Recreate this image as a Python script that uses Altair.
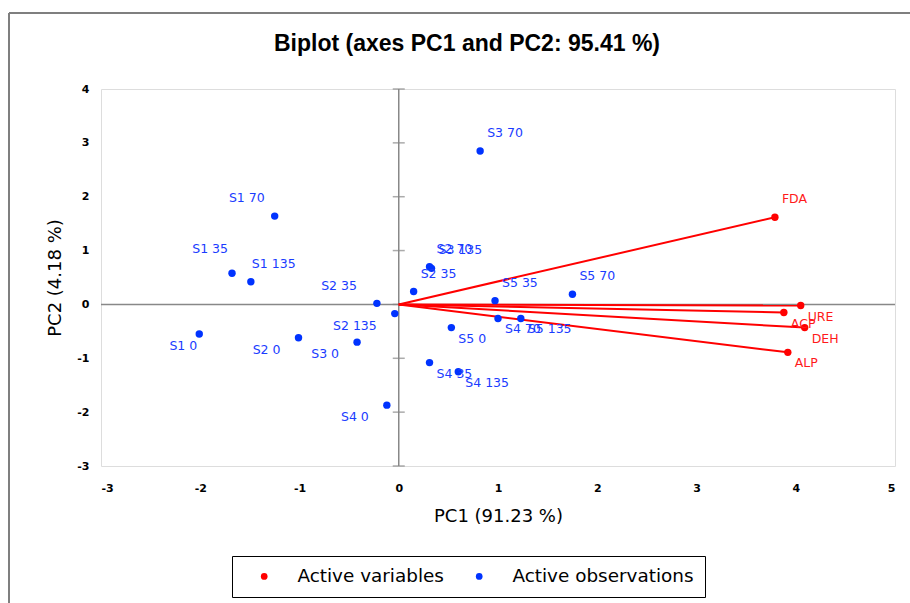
import altair as alt
import pandas as pd

# ---- data ----
obs_names = ["S1 0", "S1 35", "S1 70", "S1 135", "S2 0", "S2 35", "S2 70", "S2 135",
             "S3 0", "S2 35", "S3 70", "S3 135", "S4 0", "S4 35", "S4 70", "S4 135",
             "S5 0", "S5 35", "S5 70", "S5 135"]
obs_pc1 = [-2.01, -1.68, -1.25, -1.49, -1.01, -0.22, 0.31, -0.04,
           -0.42, 0.15, 0.82, 0.33, -0.12, 0.31, 1.00, 0.60,
           0.53, 0.97, 1.75, 1.23]
obs_pc2 = [-0.55, 0.58, 1.64, 0.42, -0.62, 0.02, 0.70, -0.17,
           -0.70, 0.24, 2.85, 0.67, -1.87, -1.08, -0.26, -1.25,
           -0.43, 0.07, 0.19, -0.26]
# label placement class for each observation
obs_pos = ["ll2", "ul2", "ul", "ur2", "ll", "ul3", "ur", "ll",
           "ll", "ur", "ur", "ur", "ll", "lr", "lr", "lr",
           "lr", "ur", "ur", "lr"]

var_names = ["FDA", "URE", "ACP", "DEH", "ALP"]
var_pc1 = [3.79, 4.05, 3.88, 4.09, 3.92]
var_pc2 = [1.62, -0.02, -0.15, -0.43, -0.89]
var_pos = ["ur", "lr", "lr", "lr", "lr"]

x_ticks = [-3, -2, -1, 0, 1, 2, 3, 4, 5]
y_ticks = [-3, -2, -1, 0, 1, 2, 3, 4]

title_text = "Biplot (axes PC1 and PC2: 95.41 %)"
x_title = "PC1 (91.23 %)"
y_title = "PC2 (4.18 %)"
legend_labels = ["Active variables", "Active observations"]
legend_colors = ["#ff0000", "#0033ff"]

obs_df = pd.DataFrame({"name": obs_names, "x": obs_pc1, "y": obs_pc2,
                       "pos": obs_pos, "type": legend_labels[1]})
var_df = pd.DataFrame({"name": var_names, "x": var_pc1, "y": var_pc2,
                       "pos": var_pos, "type": legend_labels[0]})
ytick_df = pd.DataFrame({"v": y_ticks})
one = pd.DataFrame({"a": [0]})

# ---- scales / axes ----
xs = alt.Scale(domain=[-3, 5], nice=False, zero=False)
ys = alt.Scale(domain=[-3, 4], nice=False, zero=False)
xaxis = alt.Axis(values=x_ticks, grid=False, domain=False, ticks=False, tickSize=0,
                 labelPadding=16, labelFont="DejaVu Sans", labelFontSize=11,
                 labelFontWeight="bold", labelExpr="datum.value + ''",
                 labelColor="#000000", titleFont="DejaVu Sans", titleFontSize=18,
                 titleFontWeight="normal", titleColor="#000000", titlePadding=14,
                 title=x_title)
yaxis = alt.Axis(values=y_ticks, grid=False, domain=False, ticks=False, tickSize=0,
                 labelPadding=12, labelFont="DejaVu Sans", labelFontSize=11,
                 labelFontWeight="bold", labelExpr="datum.value + ''",
                 labelColor="#000000", titleFont="DejaVu Sans", titleFontSize=18,
                 titleFontWeight="normal", titleColor="#000000", titlePadding=12,
                 title=y_title)


def X(field):
    return alt.X(field, type="quantitative", scale=xs, axis=xaxis)


def Y(field):
    return alt.Y(field, type="quantitative", scale=ys, axis=yaxis)


color_enc = alt.Color("type:N",
                      scale=alt.Scale(domain=legend_labels, range=legend_colors),
                      legend=alt.Legend(title=None, orient="none", legendX=131, legendY=467,
                                        direction="horizontal",
                                        strokeColor="#000000", padding=11,
                                        symbolType="circle", symbolSize=45,
                                        symbolStrokeWidth=0, symbolOffset=12,
                                        labelOffset=24, columnPadding=14,
                                        labelLimit=400,
                                        labelFont="DejaVu Sans", labelFontSize=18.4,
                                        labelColor="#000000"))

# zero lines
zero_v = alt.Chart(one).transform_calculate(z="0").mark_rule(
    color="#888888", strokeWidth=1.5).encode(x=X("z"))
zero_h = alt.Chart(one).transform_calculate(z="0").mark_rule(
    color="#888888", strokeWidth=1.5).encode(y=Y("z"))
zero_ticks = alt.Chart(ytick_df).transform_calculate(z="0").mark_tick(
    color="#888888", orient="horizontal", size=12, thickness=1.5).encode(
    x=X("z"), y=Y("v"))

# variable vectors (from the origin)
vectors = alt.Chart(var_df).transform_calculate(ox="0", oy="0").mark_rule(
    color="#ff0000", strokeWidth=2).encode(
    x=X("ox"), y=Y("oy"), x2=alt.X2("x"), y2=alt.Y2("y"))
var_pts = alt.Chart(var_df).mark_circle(size=55, opacity=1).encode(
    x=X("x"), y=Y("y"), color=color_enc)
obs_pts = alt.Chart(obs_df).mark_circle(size=55, opacity=1).encode(
    x=X("x"), y=Y("y"), color=color_enc)

# label placements: class -> (align, dx, dy)
placements = {
    "ur": ("left", 7, -18),
    "ur2": ("left", 1, -18),
    "ul": ("right", -10, -18),
    "ul2": ("right", -4, -24),
    "ul3": ("right", -20, -17),
    "ll": ("right", -18, 12),
    "ll2": ("right", -2, 12),
    "lr": ("left", 7, 11),
}

text_layers = []
for df, col in ((obs_df, "#1a3cff"), (var_df, "#ff1a1a")):
    for cls, (al, dx, dy) in placements.items():
        sub = df[df["pos"] == cls]
        if len(sub) == 0:
            continue
        text_layers.append(
            alt.Chart(sub).mark_text(align=al, baseline="middle", dx=dx, dy=dy,
                                     font="DejaVu Sans", fontSize=12.5, color=col)
            .encode(x=X("x"), y=Y("y"), text="name:N"))

# outer frame (decoration)
frame_left = alt.Chart(one).mark_rule(color="#7f7f7f", strokeWidth=2).encode(
    x=alt.value(-92), y=alt.value(-76), y2=alt.value(530))
frame_top = alt.Chart(one).mark_rule(color="#7f7f7f", strokeWidth=2).encode(
    x=alt.value(-92), x2=alt.value(830), y=alt.value(-76))

chart = alt.layer(
    zero_v, zero_h, zero_ticks, vectors, var_pts, obs_pts, *text_layers,
    frame_left, frame_top
).properties(
    width=794, height=377,
    title=alt.TitleParams(title_text, font="Liberation Sans", fontSize=23,
                          fontWeight="bold", color="#000000", anchor="middle",
                          dx=-31, offset=-44),
    autosize=alt.AutoSizeParams(type="none"),
    padding={"left": 101, "top": 89, "right": 15, "bottom": 137},
).configure_view(
    stroke="#c8c8c8", strokeWidth=2
).configure(background="#ffffff")

chart.save("out.html", embed_options={"renderer": "svg", "actions": False})
